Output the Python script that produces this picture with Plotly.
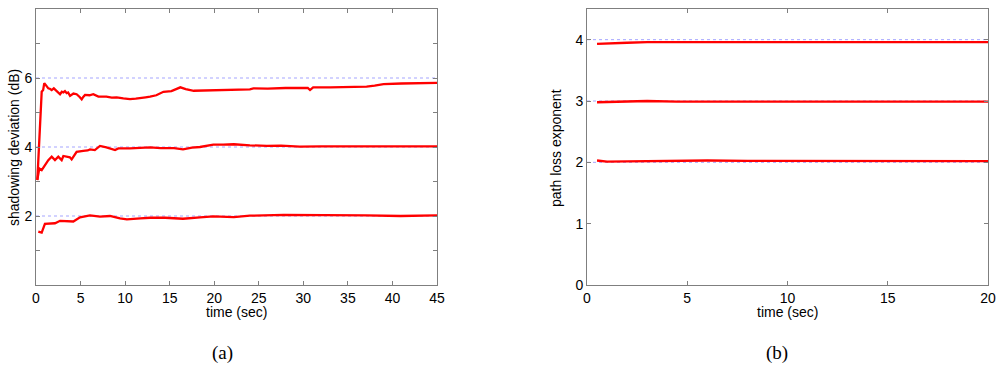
import plotly.graph_objects as go

# ---------------- data: (a) shadowing deviation ----------------
t_a6 = [0.15, 0.45, 0.64, 0.8, 0.93, 1.15, 1.38, 1.6, 1.76, 2.0, 2.13, 2.4, 2.7, 2.9, 3.07, 3.25, 3.44, 3.6, 3.82,
        4.2, 4.56, 4.9, 5.13, 5.3, 5.5, 6.0, 6.43, 7.0, 7.9, 8.5, 9.05, 9.8, 10.55, 11.2, 11.7, 12.3, 12.8,
        13.5, 14.3, 15.2, 16.2, 16.8, 17.7, 19.0, 20.3, 22.0, 24.0, 24.4, 26.0, 28.0, 29.6, 30.5, 30.75,
        31.1, 33.0, 35.0, 37.1, 38.0, 39.0, 41.0, 43.0, 45.0]
v_a6 = [3.04, 4.6, 5.6, 5.65, 5.85, 5.78, 5.70, 5.68, 5.65, 5.70, 5.67, 5.58, 5.53, 5.60, 5.58, 5.62, 5.56, 5.58, 5.48,
        5.55, 5.53, 5.45, 5.38, 5.45, 5.51, 5.50, 5.53, 5.46, 5.46, 5.43, 5.44, 5.41, 5.39, 5.40, 5.41, 5.44, 5.46,
        5.50, 5.60, 5.62, 5.73, 5.68, 5.63, 5.64, 5.63, 5.65, 5.67, 5.70, 5.69, 5.71, 5.72, 5.71, 5.65,
        5.73, 5.73, 5.74, 5.75, 5.78, 5.82, 5.84, 5.85, 5.86]

t_a4 = [0.15, 0.37, 0.64, 1.0, 1.38, 1.76, 2.13, 2.5, 2.88, 3.07, 3.5, 3.8, 4.0, 4.56, 5.3, 5.8, 6.06, 6.6,
        7.18, 7.9, 8.87, 9.24, 10.55, 12.0, 12.8, 14.0, 15.5, 16.5, 17.5, 18.4, 19.9, 21.0, 22.2, 24.0,
        25.9, 27.5, 29.6, 32.0, 34.0, 36.5, 38.5, 40.5, 43.0, 45.0]
v_a4 = [3.05, 3.38, 3.33, 3.48, 3.62, 3.72, 3.62, 3.72, 3.62, 3.74, 3.72, 3.70, 3.64, 3.86, 3.89, 3.90, 3.93, 3.91,
        4.03, 3.99, 3.91, 3.96, 3.96, 3.98, 3.99, 3.97, 3.97, 3.93, 3.98, 4.00, 4.07, 4.07, 4.08, 4.05,
        4.03, 4.04, 4.01, 4.02, 4.02, 4.03, 4.01, 4.01, 4.02, 4.02]

t_a2 = [0.26, 0.64, 1.0, 1.57, 2.13, 2.7, 3.44, 4.19, 4.94, 6.06, 7.18, 8.3, 9.43, 10.2, 11.7, 12.8, 14.5,
        16.5, 18.4, 19.9, 22.2, 24.0, 27.8, 30.0, 33.4, 37.0, 40.9, 43.0, 45.0]
v_a2 = [1.55, 1.52, 1.77, 1.77, 1.79, 1.86, 1.86, 1.84, 1.96, 2.02, 1.98, 2.00, 1.93, 1.90, 1.93, 1.95, 1.95,
        1.92, 1.96, 1.99, 1.97, 2.01, 2.03, 2.03, 2.03, 2.02, 2.00, 2.01, 2.02]

true_a = [2, 4, 6]
range_a = [0, 45]

# ---------------- data: (b) path loss exponent ----------------
t_b = [0.5, 1.0, 2.0, 3.0, 4.5, 6.0, 8.0, 10.0, 12.0, 14.0, 16.0, 18.0, 20.0]
v_b4 = [3.93, 3.94, 3.95, 3.96, 3.96, 3.96, 3.955, 3.95, 3.95, 3.955, 3.955, 3.96, 3.96]
v_b3 = [2.98, 2.985, 2.995, 3.00, 2.99, 2.99, 2.99, 2.985, 2.985, 2.985, 2.985, 2.985, 2.99]
v_b2 = [2.03, 2.01, 2.015, 2.02, 2.025, 2.03, 2.025, 2.025, 2.025, 2.03, 2.025, 2.025, 2.02]

true_b = [2, 3, 4]
range_b = [0, 20]

RED = "#ff0000"
REF = "rgb(165,165,255)"
FRAME = "#7f7f7f"

W, H = 1000, 369


def px(xp):
    return xp / W


def py(yp):
    return 1 - yp / H


fig = go.Figure()

for tv in true_a:
    fig.add_trace(go.Scatter(x=range_a, y=[tv, tv], mode="lines", xaxis="x", yaxis="y",
                             line=dict(color=REF, width=1, dash="dot"), hoverinfo="skip", showlegend=False))
for xs, ys in [(t_a6, v_a6), (t_a4, v_a4), (t_a2, v_a2)]:
    fig.add_trace(go.Scatter(x=xs, y=ys, mode="lines", xaxis="x", yaxis="y",
                             line=dict(color=RED, width=2.3), showlegend=False))

for tv in true_b:
    fig.add_trace(go.Scatter(x=range_b, y=[tv, tv], mode="lines", xaxis="x2", yaxis="y2",
                             line=dict(color=REF, width=1, dash="dot"), hoverinfo="skip", showlegend=False))
for ys in [v_b4, v_b3, v_b2]:
    fig.add_trace(go.Scatter(x=t_b, y=ys, mode="lines", xaxis="x2", yaxis="y2",
                             line=dict(color=RED, width=2.3), showlegend=False))

ydom = [py(285), py(9)]
axis_common = dict(showgrid=False, zeroline=False, showline=True, linecolor=FRAME, linewidth=1,
                   mirror="ticks", ticks="inside", ticklen=4, tickcolor=FRAME, automargin=False,
                   tickfont=dict(family="Liberation Sans, Arial, sans-serif", size=14, color="black"))

fig.update_layout(
    width=W, height=H,
    margin=dict(l=0, r=0, t=0, b=0, autoexpand=False),
    paper_bgcolor="white", plot_bgcolor="white",
    xaxis=dict(domain=[px(36), px(437)], range=range_a, anchor="y",
               tickvals=[0, 5, 10, 15, 20, 25, 30, 35, 40, 45], **axis_common),
    yaxis=dict(domain=ydom, range=[0, 8], anchor="x",
               tickvals=[1, 2, 3, 4, 5, 6, 7], ticktext=["", "2", "", "4", "", "6", ""], **axis_common),
    xaxis2=dict(domain=[px(587), px(988)], range=range_b, anchor="y2",
                tickvals=[0, 5, 10, 15, 20], **axis_common),
    yaxis2=dict(domain=ydom, range=[0, 4.5], anchor="x2",
                tickvals=[0, 1, 2, 3, 4], **axis_common),
)

lab_font = dict(family="Liberation Sans, Arial, sans-serif", size=14, color="black")
cap_font = dict(family="Liberation Serif, Times New Roman, serif", size=19, color="black")
ann = [
    dict(x=px(14), y=py(148), text="shadowing deviation (dB)", textangle=-90, font=lab_font),
    dict(x=px(556), y=py(148), text="path loss exponent", textangle=-90, font=lab_font),
    dict(x=px(236), y=py(312), text="time (sec)", font=lab_font),
    dict(x=px(787), y=py(312), text="time (sec)", font=lab_font),
    dict(x=px(222), y=py(353), text="(a)", font=cap_font),
    dict(x=px(777), y=py(353), text="(b)", font=cap_font),
]
fig.update_layout(annotations=[dict(xref="paper", yref="paper", showarrow=False,
                                    xanchor="center", yanchor="middle", **a) for a in ann])

fig.write_html("out.html", config={"displayModeBar": False},
               post_script="document.body.style.margin='0px';document.body.style.overflow='hidden';")
